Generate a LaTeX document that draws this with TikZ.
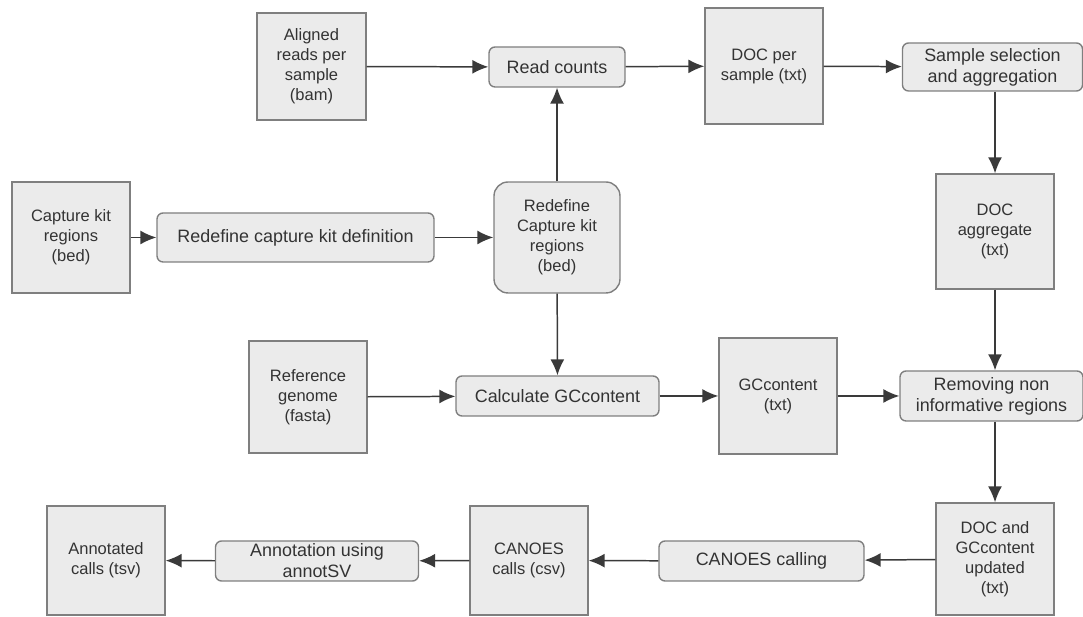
\documentclass[tikz,border=0pt]{standalone}
\usepackage{fontspec}
\setmainfont{Liberation Sans}
\usetikzlibrary{arrows.meta}
\definecolor{boxfill}{HTML}{EBEBEB}
\definecolor{boxline}{HTML}{7F7F7F}
\definecolor{txtgray}{HTML}{333333}
\definecolor{linegray}{HTML}{3A3A3A}
\begin{document}
\begin{tikzpicture}[x=0.02cm,y=-0.02cm,
    data/.style={minimum width=2.36cm,minimum height=2.26cm,font=\fontsize{9.4}{11.4}\selectfont},
    proc/.style={rounded corners=1.2mm,minimum height=0.8cm,font=\fontsize{10.2}{12}\selectfont},
    arr/.style={draw=linegray,line width=0.85pt,-{Latex[length=3.2mm,width=2.8mm]}}]
    \useasboundingbox (0,0) rectangle (1083,617);
    \begin{scope}[every node/.style={fill=boxfill,draw=boxline,line width=0.8pt,text=txtgray,align=center,inner sep=1pt}]
    % inputs and data files
    \node[data,minimum width=2.18cm,minimum height=2.14cm] (bam) at (311.5,66.5) {Aligned\\reads per\\sample\\(bam)};
    \node[data,minimum height=2.32cm] (docsample) at (764,66) {DOC per\\sample (txt)};
    \node[data,minimum height=2.22cm] (capbed) at (71,237.5) {Capture kit\\regions\\(bed)};
    \node[data,minimum height=2.3cm] (docagg) at (995,231.5) {DOC\\aggregate\\(txt)};
    \node[data,minimum height=2.24cm] (refgen) at (308,397) {Reference\\genome\\(fasta)};
    \node[data,minimum height=2.32cm] (gctxt) at (778,396) {GCcontent\\(txt)};
    \node[data,minimum height=2.24cm] (docgc) at (995,559) {DOC and\\GCcontent\\updated\\(txt)};
    \node[data,minimum height=2.18cm] (canoescsv) at (529,560.5) {CANOES\\calls (csv)};
    \node[data,minimum height=2.18cm] (annotated) at (106,560.5) {Annotated\\calls (tsv)};
    % processing steps
    \node[proc,minimum width=2.72cm] (readcnt) at (557,67) {Read counts};
    \node[proc,minimum width=3.6cm,minimum height=0.96cm] (selagg) at (992.5,67) {Sample selection\\and aggregation};
    \node[proc,minimum width=5.54cm,minimum height=0.98cm] (redefdef) at (295.5,237.5) {Redefine capture kit definition};
    \node[proc,rounded corners=2.8mm,minimum width=2.52cm,minimum height=2.22cm,font=\fontsize{9.4}{11.4}\selectfont] (redefbed) at (557,237.5) {Redefine\\Capture kit\\regions\\(bed)};
    \node[proc,minimum width=4.06cm] (calcgc) at (557.5,396) {Calculate GCcontent};
    \node[proc,minimum width=3.66cm,minimum height=1cm] (removing) at (991.5,396) {Removing non\\informative regions};
    \node[proc,minimum width=4.1cm] (canoescall) at (761.5,561) {CANOES calling};
    \node[proc,minimum width=4.06cm,inner ysep=0pt] (annotsv) at (317,561) {Annotation using\\annotSV};
    \end{scope}
    % connectors
    \path (bam) edge[arr] (readcnt);
    \path (readcnt) edge[arr] (docsample);
    \path (docsample) edge[arr] (selagg);
    \path (selagg.south -| docagg) edge[arr] (docagg);
    \path (capbed) edge[arr] (redefdef);
    \path (redefdef) edge[arr] (redefbed);
    \path (redefbed) edge[arr] (readcnt);
    \path (redefbed) edge[arr] (calcgc);
    \path (refgen) edge[arr] (calcgc);
    \path (calcgc) edge[arr] (gctxt);
    \path (gctxt) edge[arr] (removing);
    \path (docagg) edge[arr] (docagg |- removing.north);
    \path (removing.south -| docgc) edge[arr] (docgc);
    \path (docgc) edge[arr] (canoescall);
    \path (canoescall) edge[arr] (canoescsv);
    \path (canoescsv) edge[arr] (annotsv);
    \path (annotsv) edge[arr] (annotated);
\end{tikzpicture}
\end{document}
